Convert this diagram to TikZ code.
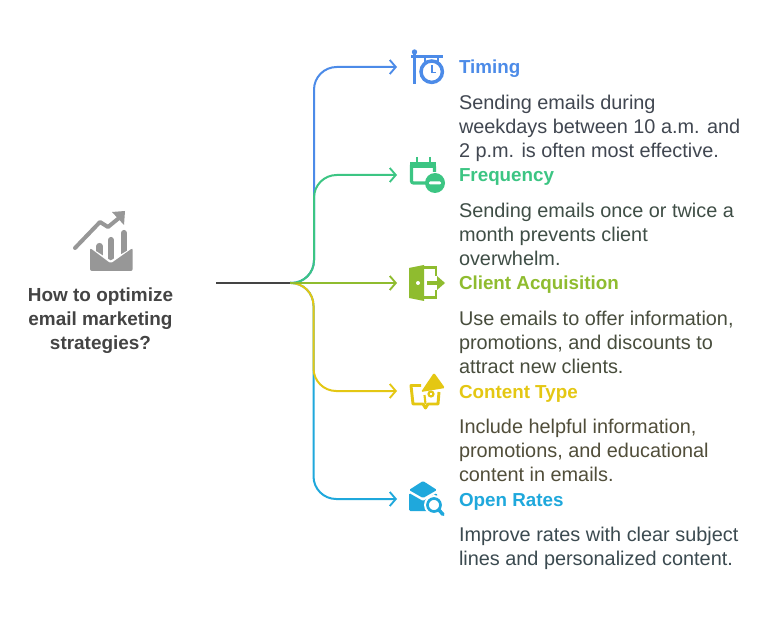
\documentclass[tikz,border=0pt]{standalone}
\usepackage{fontspec}
\setmainfont{Liberation Sans}
\usepackage{tikz}
\usetikzlibrary{arrows.meta,positioning}
\definecolor{timingc}{HTML}{4C8BE8}
\definecolor{freqc}{HTML}{3CC583}
\definecolor{clientc}{HTML}{8FBC2F}
\definecolor{contentc}{HTML}{E4C713}
\definecolor{openc}{HTML}{1FA8DC}
\definecolor{rootc}{HTML}{444444}
\definecolor{iconc}{HTML}{979797}
\begin{document}
\begin{tikzpicture}[x=.75pt, y=-.75pt, every node/.style={inner sep=0pt, outer sep=0pt},
  head/.style={anchor=base west, font=\fontsize{14.1}{18}\selectfont\bfseries},
  body/.style={anchor=north west, align=left, text=#1!14!black!78!white, font=\fontsize{14.9}{18}\selectfont},
  branch/.style={draw=#1, line width=1.5pt, rounded corners=17pt, -{Straight Barb[length=4.5pt,width=10.5pt,line width=1.4pt]}}]
\useasboundingbox (0,0) rectangle (782,620);
\fill[white] (0,0) rectangle (782,620);

% chart over an open envelope
\draw[iconc, line width=3pt, line cap=round, line join=round] (75,248) -- (100,222) -- (108,227) -- (119,218);
\fill[iconc] (112,212) -- (125,211) -- (124,225) -- cycle;
\draw[iconc, line width=4.6pt, line cap=round] (99.5,246) -- (99.5,258) (111,240) -- (111,264) (124,233) -- (124,258);
\fill[white] (88,246) -- (110.7,260.5) -- (135,246) -- (135,275) -- (88,275) -- cycle;
\fill[iconc, rounded corners=1.5pt] (90,248) -- (110.7,263.5) -- (132.7,248) -- (132.7,271) -- (90,271) -- cycle;
\node[font=\fontsize{14.2}{18}\selectfont\bfseries, text=rootc, align=center] (root) at (100.5,320.5) {How to optimize\\email marketing\\strategies?};

\coordinate (start) at (216,283);
\coordinate (hub) at (290,283);
\coordinate (timingend) at (397,67);
\coordinate (freqend) at (397,175);
\coordinate (clientend) at (397,283);
\coordinate (contentend) at (397,391);
\coordinate (openend) at (397,499);

\draw[branch=timingc] (hub) -- (314,283) -- (314,67) -- (timingend);
\draw[branch=openc] (hub) -- (313.5,283) -- (313.5,499) -- (openend);
\draw[branch=freqc] (hub) -- (314,283) -- (314,175) -- (freqend);
\draw[branch=contentc] (hub) -- (313.5,283) -- (313.5,391) -- (contentend);
\draw[branch=clientc] (hub) -- (clientend);
\draw[rootc, line width=1.5pt] (start) -- (hub);

% hanging clock
\fill[timingc] (414.5,52) circle (2.7);
\draw[timingc, line width=1.8pt] (414.5,52) -- (414.5,84) (411,56.7) -- (443,56.7) (425,57) -- (425,62) (438,57) -- (438,62);
\draw[timingc, line width=2.6pt] (431.7,71.7) circle (10.7);
\draw[timingc, line width=1.2pt] (431.7,65.5) -- (431.7,72.5) -- (436,72.5) (431.7,60) -- (431.7,62.5) (431.7,81) -- (431.7,83) (420.5,71.7) -- (423,71.7) (440.5,71.7) -- (443,71.7);

% calendar with a minus badge
\draw[freqc, line width=2.4pt, rounded corners=1.5pt] (411.5,165) -- (411.5,183) -- (428,183) (434.5,172) -- (434.5,165) -- (411.5,165);
\fill[freqc] (410,162) rectangle (436,168);
\draw[freqc, line width=2pt] (417,157) -- (417,163) (430,157) -- (430,163);
\fill[freqc] (435,183) circle (10);
\fill[white, rounded corners=.8pt] (429,181.5) rectangle (441,184.5);

% door with an exit arrow
\fill[clientc] (409,268) -- (424,265) -- (424,301) -- (409,298) -- cycle;
\fill[white] (418,283) circle (2);
\draw[clientc, line width=2pt] (424,267.5) -- (436,267.5) -- (436,276) (436,290) -- (436,297.5) -- (424,297.5);
\draw[clientc, line width=3.6pt] (427,283) -- (438,283);
\fill[clientc] (437,276) -- (445,283) -- (437,290) -- cycle;

% open book under a megaphone
\draw[contentc, line width=2.2pt, line join=round] (421,385.5) -- (411,385.5) -- (413,404) -- (423,404) -- (425.5,408) -- (428,404) -- (438,404) -- (439,392);
\draw[contentc, line width=1.6pt] (424.5,395) -- (425.5,404);
\draw[contentc, line width=1.6pt] (431,394) circle (2.5);
\fill[contentc, rounded corners=1pt] (434,372.7) -- (445,388) -- (421,392) -- cycle;

% envelope and magnifier
\fill[openc, rounded corners=1pt] (409,490) -- (423,481) -- (437,490) -- (423,498) -- cycle;
\fill[openc, rounded corners=1pt] (409,493) -- (423,501) -- (437,493) -- (437,511) -- (409,511) -- cycle;
\fill[white] (434,505) circle (10);
\draw[openc, line width=2pt] (434,505) circle (6.5);
\draw[openc, line width=2.6pt, line cap=round] (439,510) -- (443,514.5);

\node[head, text=timingc] (timing) at (459,74) {Timing};
\node[body=timingc, below=16pt of timing.base west, anchor=north west] (timingtext) {Sending emails during\\weekdays between 10 a.m. and\\2 p.m. is often most effective.};
\node[head, text=freqc] (freq) at (459,182) {Frequency};
\node[body=freqc, below=16pt of freq.base west, anchor=north west] (freqtext) {Sending emails once or twice a\\month prevents client\\overwhelm.};
\node[head, text=clientc] (client) at (459,290) {Client Acquisition};
\node[body=clientc, below=16pt of client.base west, anchor=north west] (clienttext) {Use emails to offer information,\\promotions, and discounts to\\attract new clients.};
\node[head, text=contentc] (content) at (459,398) {Content Type};
\node[body=contentc, below=16pt of content.base west, anchor=north west] (contenttext) {Include helpful information,\\promotions, and educational\\content in emails.};
\node[head, text=openc] (open) at (459,506) {Open Rates};
\node[body=openc, below=16pt of open.base west, anchor=north west] (opentext) {Improve rates with clear subject\\lines and personalized content.};
\end{tikzpicture}
\end{document}
